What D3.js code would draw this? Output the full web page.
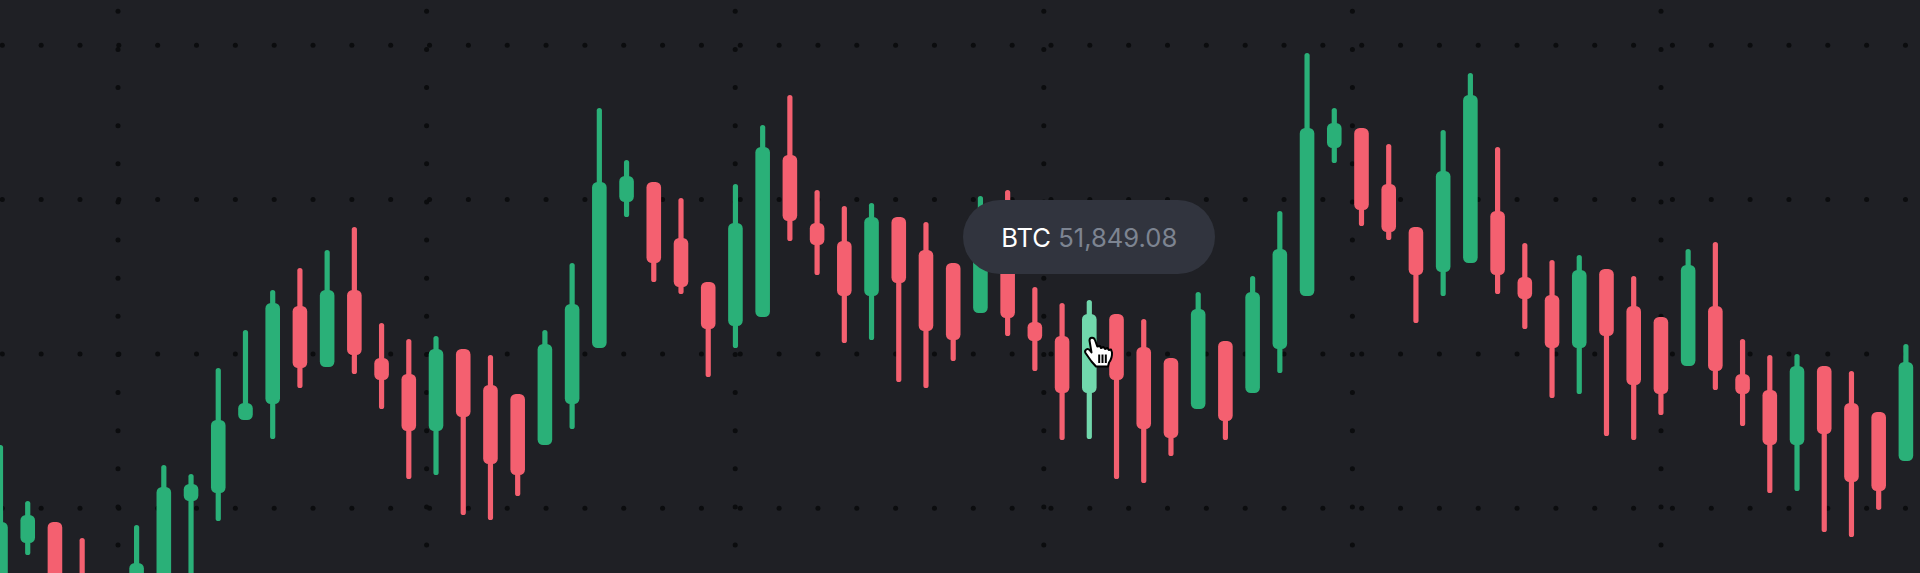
<!DOCTYPE html>
<html><head><meta charset="utf-8">
<script src="https://cdn.jsdelivr.net/npm/d3@7/dist/d3.min.js"></script>
<style>html,body{margin:0;padding:0;background:#1f2025;overflow:hidden}svg{display:block}</style>
</head><body><div id="chart"></div>
<script>
// The reference prints no price axis, so values are in chart units
// above the lower edge; candles that run past that edge have estimated negative parts.
const highs = [128,72,51,35,-17,48,108,99,205,243,283,305,323,346,250,234,237,224,218,179,243,310,465,413,391,375,291,389,448,478,383,367,370,356,351,310,377,383,286,270,273,259,254,215,281,232,297,362,520,465,445,429,346,443,500,426,330,313,318,304,297,256,324,331,234,218,219,207,202,161,229];
const bodyTops = [51,58,51,-12,-27,10,86,89,153,170,270,267,283,283,215,199,224,224,188,179,229,269,391,397,391,335,291,350,426,418,350,332,356,356,323,310,358,338,251,237,259,259,226,215,264,232,281,324,445,450,445,389,346,402,478,362,296,278,303,304,267,256,308,267,199,183,207,207,170,161,211];
const bodyBottoms = [-27,30,-37,-67,-67,-47,-27,72,80,153,169,205,206,218,193,142,142,156,109,98,128,169,225,371,310,286,244,247,256,352,328,277,277,290,242,233,260,255,232,180,180,193,144,135,164,152,180,224,277,425,363,341,298,301,310,298,274,225,225,237,188,179,207,202,179,128,128,139,91,82,112];
const lows = [-37,18,-52,-87,-77,-57,-27,-17,52,153,134,185,206,199,164,94,98,58,53,77,128,144,225,356,291,279,196,225,256,332,298,230,233,191,185,212,260,237,202,133,134,94,90,117,164,133,180,200,277,410,347,333,250,277,310,279,244,175,179,137,133,158,207,183,147,80,82,41,36,63,112];
const directions = "uudddUUUUUUdUdddUdddUUUUdddUUdddUdddUdddUdddUdUUUUdddUUdddUdddUdddUdddU".toLowerCase();
const hoveredIndex = 40;
const tooltipSymbol = "BTC";
const tooltipPrice = "51,849.08";

const W = 1920, H = 573;
const C = {bg:"#1f2025", dot:"#0b0c0e", up:"#2ab078", down:"#f46070", hover:"#71d7ac", tip:"#31343e", tipMuted:"#7d8491", tipText:"#ffffff"};

const svg = d3.select("#chart").append("svg").attr("width",W).attr("height",H);
svg.append("rect").attr("width",W).attr("height",H).attr("fill",C.bg);

// dotted grid
const rowYs = d3.range(4).map(i=>45.3+154.3*i);
const rowXs = d3.range(50).map(i=>2.3+38.84*i);
const colXs = d3.range(6).map(i=>118+308.6*i);
const colYs = d3.range(15).map(i=>11.3+38.13*i);
const grid = svg.append("g").attr("fill",C.dot);
rowYs.forEach(y=>grid.selectAll(null).data(rowXs).join("circle").attr("cx",d=>d).attr("cy",y).attr("r",2.5));
colXs.forEach(x=>grid.selectAll(null).data(colYs).join("circle").attr("cx",x).attr("cy",d=>d).attr("r",2.5));

const x = d3.scaleLinear().domain([0,highs.length-1]).range([0.5,1905.9]);
const y = d3.scaleLinear().domain([0,573]).range([573,0]);
const candles = highs.map((h,i)=>({i,high:h,low:lows[i],top:bodyTops[i],bottom:bodyBottoms[i],dir:directions[i]}));
const color = d=> d.i===hoveredIndex ? C.hover : (d.dir==="u"?C.up:C.down);
const BW = 14.6, WW = 5.2;

const g = svg.append("g").selectAll("g").data(candles).join("g");
g.append("rect").attr("x",d=>x(d.i)-WW/2).attr("width",WW).attr("y",d=>y(d.high)).attr("height",d=>y(d.low)-y(d.high)).attr("rx",2.6).attr("fill",color);
g.append("rect").attr("x",d=>x(d.i)-BW/2).attr("width",BW).attr("y",d=>y(d.top)).attr("height",d=>y(d.bottom)-y(d.top)).attr("rx",5.5).attr("fill",color);

// tooltip
const tip = svg.append("g");
tip.append("rect").attr("x",963).attr("y",200).attr("width",252).attr("height",74).attr("rx",37).attr("fill",C.tip);
const t = tip.append("text").attr("x",1089.3).attr("y",246.6).attr("text-anchor","middle").attr("font-family","Inter, sans-serif").attr("font-size",25.6);
t.append("tspan").attr("fill",C.tipText).text(tooltipSymbol+" ");
t.append("tspan").attr("fill",C.tipMuted).text(tooltipPrice);

// hand cursor
const cur = svg.append("g");
cur.append("path").attr("d","M1089.5 340.5C1089.5 337 1094 336.8 1095 340L1097.3 346.5L1100 346L1101 348L1103.5 347L1105 349L1107.5 348L1108.8 350L1111 349.5L1112 352.5C1112.3 357 1110.5 360.5 1109 362.5L1108 366.5L1096 366.5L1091.5 361.5L1085.5 353C1084 350 1087.5 347.5 1090 350.5L1091.5 352.5Z")
  .attr("fill","#fff").attr("stroke","#000").attr("stroke-width",2).attr("stroke-linejoin","round");
cur.selectAll(null).data([1098.2,1101.5,1104.8]).join("rect").attr("x",d=>d).attr("y",354.5).attr("width",2).attr("height",8.5).attr("fill","#000");
</script>
</body></html>
